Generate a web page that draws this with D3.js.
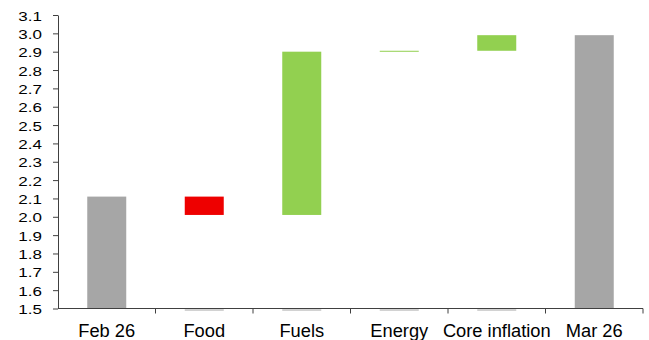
<!DOCTYPE html>
<html>
<head>
<meta charset="UTF-8">
<title>Waterfall Feb 26 - Mar 26</title>
<script src="https://cdn.jsdelivr.net/npm/d3@7"></script>
<style>
body { margin: 0; background: #fff; }
svg text { font-family: "Liberation Sans", Arial, sans-serif; fill: #000; }
.axis path, .axis line { stroke: #404040; }
</style>
</head>
<body>
<svg id="chart" width="649" height="340"></svg>
<script>
// data
var categories = ["Feb 26", "Food", "Fuels", "Energy", "Core inflation", "Mar 26"];
var values = [2.11, -0.10, 0.89, 0.005, 0.085, 2.99];
var kinds = ["total", "delta", "delta", "delta", "delta", "total"];
var yTicks = [1.5, 1.6, 1.7, 1.8, 1.9, 2.0, 2.1, 2.2, 2.3, 2.4, 2.5, 2.6, 2.7, 2.8, 2.9, 3.0, 3.1];

var svg = d3.select("#chart");
var mLeft = 58, mRight = 643, mTop = 15, mBottom = 308.5;

var x = d3.scaleBand().domain(categories).range([mLeft, mRight]).padding(0);
var y = d3.scaleLinear().domain([1.5, 3.1]).range([mBottom, mTop]);

var colors = { total: "#a6a6a6", up: "#92d050", down: "#ee0000" };

// build waterfall segments
var run = 0;
var rows = categories.map(function(c, i) {
  var d = { cat: c, kind: kinds[i] };
  if (kinds[i] == "total") {
    d.y0 = 1.5; d.y1 = values[i]; run = values[i];
    d.color = colors.total;
  } else {
    d.y0 = run; d.y1 = run + values[i]; run = d.y1;
    d.color = values[i] < 0 ? colors.down : colors.up;
  }
  return d;
});

var bw = x.bandwidth() * 0.4;

// faint base lines of the hidden series
svg.selectAll(".base")
  .data(rows.filter(function(d) { return d.kind == "delta"; }))
  .enter().append("line")
    .attr("x1", function(d) { return x(d.cat) + (x.bandwidth() - bw) / 2; })
    .attr("x2", function(d) { return x(d.cat) + (x.bandwidth() + bw) / 2; })
    .attr("y1", y(1.5) + 1.5).attr("y2", y(1.5) + 1.5)
    .attr("stroke", "#a6a6a6").attr("stroke-width", 1);

svg.selectAll(".bar")
  .data(rows)
  .enter().append("rect")
    .attr("class", "bar")
    .attr("x", function(d) { return x(d.cat) + (x.bandwidth() - bw) / 2; })
    .attr("width", bw)
    .attr("y", function(d) { return y(Math.max(d.y0, d.y1)); })
    .attr("height", function(d) { return Math.max(1, Math.abs(y(d.y0) - y(d.y1))); })
    .attr("fill", function(d) { return d.color; });

// y axis
var yAxis = svg.append("g")
    .attr("class", "axis")
    .attr("transform", "translate(" + mLeft + ",0)")
    .call(d3.axisLeft(y).tickValues(yTicks).tickSize(5).tickSizeOuter(0).tickFormat(d3.format(".1f")));
yAxis.selectAll("text")
    .attr("font-size", 17)
    .attr("x", 0)
    .attr("dy", null)
    .attr("transform", "translate(-16,5) scale(1,0.78)")
    .style("font-family", "'Liberation Sans', Arial, sans-serif");

// x axis: line, boundary ticks, centred labels
var xg = svg.append("g").attr("class", "axis");
xg.append("line")
    .attr("x1", mLeft).attr("x2", mRight)
    .attr("y1", mBottom).attr("y2", mBottom);
xg.selectAll(".tick")
  .data(categories)
  .enter().append("line")
    .attr("x1", function(d) { return x(d) + x.bandwidth(); })
    .attr("x2", function(d) { return x(d) + x.bandwidth(); })
    .attr("y1", mBottom).attr("y2", mBottom + 5);
xg.selectAll("text")
  .data(categories)
  .enter().append("text")
    .attr("x", function(d) { return x(d) + x.bandwidth() / 2; })
    .attr("y", 337)
    .attr("text-anchor", "middle")
    .attr("font-size", 18.3)
    .text(function(d) { return d; });
</script>
</body>
</html>
